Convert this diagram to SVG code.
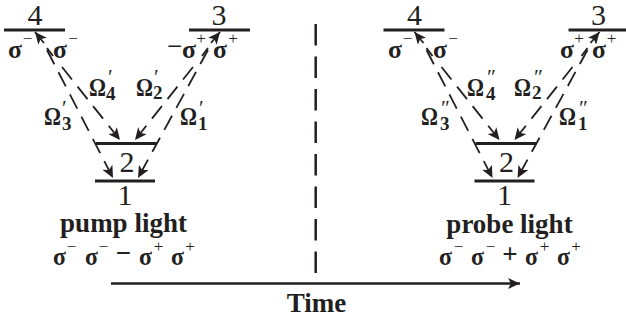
<svg xmlns="http://www.w3.org/2000/svg" width="626" height="324" viewBox="0 0 626 324">
<style>
text{font-family:"Liberation Serif","DejaVu Serif",serif;fill:#231f20}
.n{font-size:30px;text-anchor:middle}
.b{font-weight:bold;font-size:26px}
.l{font-weight:bold;font-size:27px;text-anchor:middle}
.s{font-size:17px;text-anchor:middle}
.o{font-weight:bold;font-size:25px}
.i{font-weight:bold;font-size:19px}
.p{font-size:21px;font-style:italic;text-anchor:middle}
.lv{stroke:#231f20;stroke-width:3;fill:none}
.d{stroke:#231f20;stroke-width:1.800;fill:none;stroke-dasharray:16 9}
</style>
<defs>
<marker id="a" markerUnits="userSpaceOnUse" markerWidth="13" markerHeight="11" refX="12" refY="5.500" orient="auto"><path d="M0 0L12 5.500L0 11L3 5.500Z" fill="#231f20"/></marker>
<g id="left">
<g id="level4"><line class="lv" x1="4" y1="30" x2="65" y2="30"/><text class="n" x="35" y="25">4</text></g>
<g id="level3"><line class="lv" x1="189" y1="30" x2="250" y2="30"/><text class="n" x="219" y="25">3</text></g>
<g id="level2"><line class="lv" x1="96" y1="143.500" x2="157" y2="143.500"/><text class="n" x="127" y="171.500">2</text></g>
<g id="level1"><line class="lv" x1="95" y1="181" x2="155" y2="181"/><text class="n" x="125" y="205">1</text></g>
<g id="conn">
<line class="d" x1="62" y1="67" x2="120" y2="140" marker-end="url(#a)"/>
<line class="d" x1="47" y1="48" x2="53" y2="56"/>
<line class="d" x1="44" y1="43" x2="35" y2="32" marker-end="url(#a)" style="stroke-dasharray:none"/>
<line class="d" x1="47" y1="50" x2="113" y2="178" marker-end="url(#a)"/>
<line class="d" x1="193" y1="67" x2="135" y2="140" marker-end="url(#a)"/>
<line class="d" x1="208" y1="48" x2="202" y2="56"/>
<line class="d" x1="211" y1="43" x2="220" y2="32" marker-end="url(#a)" style="stroke-dasharray:none"/>
<line class="d" x1="208" y1="50" x2="138" y2="178" marker-end="url(#a)"/>
</g>
</g>
</defs>
<use href="#left"/>
<use href="#left" x="379.500"/>
<g id="center-divider"><line x1="315.700" y1="24" x2="315.700" y2="274" stroke="#231f20" stroke-width="2.500" stroke-dasharray="21.500 11"/></g>
<g id="time-axis"><line x1="111" y1="283.500" x2="520" y2="283.500" stroke="#231f20" stroke-width="2.500" marker-end="url(#a)"/></g>
<g id="labels-left">
<text class="b" x="8" y="58" textLength="14" lengthAdjust="spacingAndGlyphs">σ</text><text class="s" x="27.500" y="44">−</text>
<text class="b" x="53" y="58" textLength="14" lengthAdjust="spacingAndGlyphs">σ</text><text class="s" x="73" y="44">−</text>
<text class="s" x="174.500" y="55" style="font-size:27px">−</text>
<text class="b" x="182" y="58" textLength="14" lengthAdjust="spacingAndGlyphs">σ</text><text class="s" x="201" y="44">+</text>
<text class="b" x="213" y="58" textLength="14" lengthAdjust="spacingAndGlyphs">σ</text><text class="s" x="233" y="44">+</text>
<text class="o" x="89" y="96" textLength="17" lengthAdjust="spacingAndGlyphs">Ω</text><text class="i" x="106" y="100">4</text><text class="p" x="109" y="84">′</text>
<text class="o" x="136" y="96" textLength="17" lengthAdjust="spacingAndGlyphs">Ω</text><text class="i" x="153" y="99">2</text><text class="p" x="155" y="84">′</text>
<text class="o" x="44" y="125" textLength="17" lengthAdjust="spacingAndGlyphs">Ω</text><text class="i" x="62" y="130">3</text><text class="p" x="63" y="115">′</text>
<text class="o" x="180" y="125" textLength="17" lengthAdjust="spacingAndGlyphs">Ω</text><text class="i" x="198" y="130">1</text><text class="p" x="200" y="115">′</text>
<text class="l" x="123.500" y="232">pump light</text>
<text class="b" x="53" y="265" textLength="13" lengthAdjust="spacingAndGlyphs">σ</text><text class="s" x="71.500" y="252">−</text>
<text class="b" x="85" y="265" textLength="13" lengthAdjust="spacingAndGlyphs">σ</text><text class="s" x="103.500" y="252">−</text>
<text class="s" x="123.500" y="262" style="font-size:27px;font-weight:bold">−</text>
<text class="b" x="139" y="265" textLength="13" lengthAdjust="spacingAndGlyphs">σ</text><text class="s" x="158.500" y="252">+</text>
<text class="b" x="171" y="265" textLength="13" lengthAdjust="spacingAndGlyphs">σ</text><text class="s" x="190" y="252">+</text>
</g>
<g id="labels-right">
<text class="b" x="388" y="58" textLength="14" lengthAdjust="spacingAndGlyphs">σ</text><text class="s" x="407.500" y="44">−</text>
<text class="b" x="433" y="58" textLength="14" lengthAdjust="spacingAndGlyphs">σ</text><text class="s" x="453" y="44">−</text>
<text class="b" x="560" y="58" textLength="14" lengthAdjust="spacingAndGlyphs">σ</text><text class="s" x="579" y="44">+</text>
<text class="b" x="592" y="58" textLength="14" lengthAdjust="spacingAndGlyphs">σ</text><text class="s" x="611.500" y="44">+</text>
<text class="o" x="467" y="96" textLength="17" lengthAdjust="spacingAndGlyphs">Ω</text><text class="i" x="486" y="100">4</text><text class="p" x="490" y="84">″</text>
<text class="o" x="514" y="96" textLength="17" lengthAdjust="spacingAndGlyphs">Ω</text><text class="i" x="532" y="99">2</text><text class="p" x="537" y="84">″</text>
<text class="o" x="421" y="125" textLength="17" lengthAdjust="spacingAndGlyphs">Ω</text><text class="i" x="440" y="130">3</text><text class="p" x="444" y="115">″</text>
<text class="o" x="559" y="125" textLength="17" lengthAdjust="spacingAndGlyphs">Ω</text><text class="i" x="578" y="130">1</text><text class="p" x="582" y="115">″</text>
<text class="l" x="509.500" y="232.500">probe light</text>
<text class="b" x="439" y="265" textLength="13" lengthAdjust="spacingAndGlyphs">σ</text><text class="s" x="458.500" y="252">−</text>
<text class="b" x="471" y="265" textLength="13" lengthAdjust="spacingAndGlyphs">σ</text><text class="s" x="490.500" y="252">−</text>
<text class="s" x="510" y="263" style="font-size:27px;font-weight:bold">+</text>
<text class="b" x="525" y="265" textLength="13" lengthAdjust="spacingAndGlyphs">σ</text><text class="s" x="544.500" y="252">+</text>
<text class="b" x="557" y="265" textLength="13" lengthAdjust="spacingAndGlyphs">σ</text><text class="s" x="576" y="252">+</text>
</g>
<text class="l" x="316.500" y="311.500">Time</text>
</svg>
